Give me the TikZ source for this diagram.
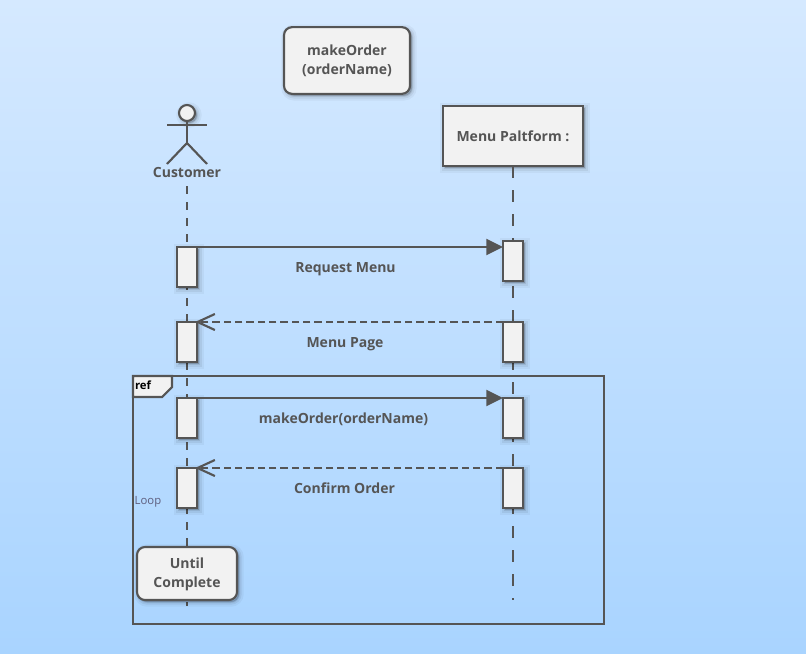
\documentclass[tikz,border=0pt]{standalone}
\usepackage{fontspec}
\setmainfont{Open Sans}
\usetikzlibrary{arrows.meta,shadows}
\definecolor{linec}{HTML}{555555}
\definecolor{boxc}{HTML}{F2F2F2}
\definecolor{loopc}{HTML}{5E5E7E}
\definecolor{bgtop}{HTML}{D5E9FF}
\definecolor{bgbot}{HTML}{A9D4FF}
\begin{document}
\begin{tikzpicture}[x=.75pt,y=-.75pt]
\tikzset{
	soft/.style={
		general shadow={shadow xshift=1.5pt,shadow yshift=-1.5pt,fill=black,draw=black,line width=7pt,opacity=.04},
		general shadow={shadow xshift=1.5pt,shadow yshift=-1.5pt,fill=black,draw=black,line width=4pt,opacity=.06},
		general shadow={shadow xshift=1.5pt,shadow yshift=-1.5pt,fill=black,draw=black,line width=1.5pt,opacity=.09}
	},
	box/.style={draw=linec, line width=1.6pt, fill=boxc, inner sep=0pt, outer sep=0pt, soft, text=linec, align=center,
		font=\fontsize{10.5}{14}\selectfont\bfseries},
	note/.style={box, rounded corners=6pt},
	bar/.style={box, minimum width=15pt, minimum height=30pt},
	lbl/.style={text=linec, inner sep=0pt, font=\fontsize{10.5}{14}\selectfont\bfseries},
	wire/.style={draw=linec, line width=1.6pt},
	call/.style={wire, -{Triangle[length=12.5pt,width=12pt]}},
	back/.style={wire, dash pattern=on 5.5pt off 3pt, shorten >=-1.5pt, -{Straight Barb[length=13pt,width=12pt,line width=1.6pt]}}
}

% background
\fill[top color=bgtop, bottom color=bgbot] (0,0) rectangle (806,653);

% lifelines
\coordinate (c_top) at (187,186);
\coordinate (c_end) at (187,606);
\draw[wire, dash pattern=on 6pt off 6pt] (c_top) -- (c_end);
\node[box, minimum width=105pt, minimum height=45pt] (p) at (513,136) {Menu Paltform :};
\coordinate (p_end) at (513,600);
\draw[wire, dash pattern=on 9pt off 9pt] (p.south) -- (p_end);

% actor
\node[draw=linec, line width=1.6pt, fill=boxc, circle, minimum size=12pt, inner sep=0pt, soft] (head) at (187,113) {};
\coordinate (arm_l) at (167,125);
\coordinate (arm_r) at (207,125);
\coordinate (hip) at (187,143);
\coordinate (leg_l) at (167,164);
\coordinate (leg_r) at (207,164);
\draw[wire] (arm_l) -- (arm_r);
\draw[wire] (head.south) -- (hip);
\draw[wire] (leg_l) -- (hip) -- (leg_r);
\node[lbl] (customer) at (187,172.5) {Customer};

% notes
\node[note, minimum width=94.5pt, minimum height=50pt] (order) at (347,60.5) {makeOrder\\(orderName)};

% activations
\node[bar] (c_1) at (187,267) {};
\node[bar] (c_2) at (187,342) {};
\node[bar] (c_3) at (187,418) {};
\node[bar] (c_4) at (187,488) {};
\node[bar] (p_1) at (513,261) {};
\node[bar] (p_2) at (513,342) {};
\node[bar] (p_3) at (513,418) {};
\node[bar] (p_4) at (513,488) {};

% messages
\draw[call] (c_1.north east) -- (c_1.north east -| p_1.west);
\draw[back] (p_2.north west) -- (c_2.north east);
\draw[call] (c_3.north east) -- (p_3.north west);
\draw[back] (p_4.north west) -- (c_4.north east);
\node[lbl] (msg_1) at (345.5,269) {Request Menu};
\node[lbl] (msg_2) at (345,344) {Menu Page};
\node[lbl] (msg_3) at (343.5,419) {makeOrder(orderName)};
\node[lbl] (msg_4) at (344.5,488.5) {Confirm Order};

% ref frame
\draw[wire, fill=boxc] (133,376) -- (172,376) -- (172,387) -- (162,397) -- (133,397) -- cycle;
\draw[wire] (133,376) rectangle (604,624);
\node[inner sep=0pt, font=\fontsize{8.5}{10}\selectfont\bfseries] (ref) at (143,385) {ref};
\node[inner sep=0pt, text=loopc, font=\fontsize{8.5}{10}\selectfont] (loop) at (148,501.5) {Loop};
\node[note, minimum width=75pt, minimum height=39.75pt] (until) at (187,573.5) {\rule{0pt}{9pt}Until\\Complete};

\end{tikzpicture}
\end{document}
